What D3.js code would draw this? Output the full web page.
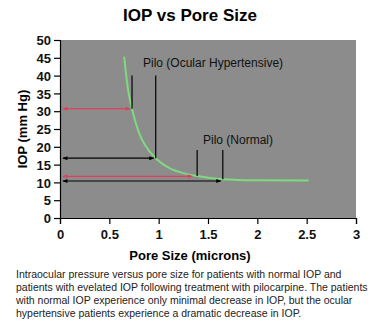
<!DOCTYPE html>
<html>
<head>
<meta charset="utf-8">
<script src="https://cdn.jsdelivr.net/npm/d3@7"></script>
<style>
  body { margin: 0; background: #fff; }
  svg { display: block; font-family: "Liberation Sans", Arial, sans-serif; }
</style>
</head>
<body>
<svg id="chart"></svg>
<script>
// curve: pore size (microns) vs IOP (mm Hg)
const poreSize = [0.65, 0.69, 0.73, 0.81, 0.86, 0.97, 1.04, 1.11, 1.25, 1.39, 1.65, 2.0, 2.52];
const iop      = [45.3, 36.0, 30.7, 23.3, 20.6, 16.8, 15.2, 14.0, 12.6, 11.8, 10.9, 10.6, 10.5];

// horizontal double arrows: level, end x, colour
const arrowIop   = [30.7, 16.8, 11.7, 10.4];
const arrowEnd   = [0.71, 0.95, 1.34, 1.63];
const arrowColor = ['#e0405c', '#000', '#e0405c', '#000'];

// vertical marker lines
const markX    = [0.73, 0.97, 1.39, 1.65];
const markTop  = [40, 40, 19.1, 19.1];
const markBase = [30.7, 16.8, 11.8, 10.9];

const xTicks = [0, 0.5, 1, 1.5, 2, 2.5, 3];
const yTicks = [0, 5, 10, 15, 20, 25, 30, 35, 40, 45, 50];

const caption = [
  'Intraocular pressure versus pore size for patients with normal IOP and',
  'patients with evelated IOP following treatment with pilocarpine. The patients',
  'with normal IOP experience only minimal decrease in IOP, but the ocular',
  'hypertensive patients experience a dramatic decrease in IOP.'
];

const width = 380, height = 333;
const m = { left: 60, top: 40, right: 24, bottom: 115 };

const svg = d3.select('#chart').attr('width', width).attr('height', height);

const x = d3.scaleLinear().domain([0, 3]).range([m.left, width - m.right]);
const y = d3.scaleLinear().domain([0, 50]).range([height - m.bottom, m.top]);

svg.append('text')
  .attr('x', 190).attr('y', 21)
  .attr('text-anchor', 'middle')
  .style('font-size', '17px').style('font-weight', 'bold')
  .text('IOP vs Pore Size');

svg.append('rect')
  .attr('x', x(0)).attr('y', y(50))
  .attr('width', x(3) - x(0)).attr('height', y(0) - y(50))
  .attr('fill', '#8c8c8c');

const defs = svg.append('defs');
['#e0405c', '#000'].forEach((c, i) => {
  defs.append('marker')
    .attr('id', 'ah' + i)
    .attr('viewBox', '0 0 10 10')
    .attr('refX', 9).attr('refY', 5)
    .attr('markerWidth', 6).attr('markerHeight', 5)
    .attr('orient', 'auto-start-reverse')
    .attr('markerUnits', 'userSpaceOnUse')
    .append('path')
    .attr('d', 'M0,1L10,5L0,9Z')
    .attr('fill', c);
});

// axes
const xAxis = svg.append('g')
  .attr('transform', `translate(0,${y(0)})`)
  .call(d3.axisBottom(x).tickValues(xTicks).tickFormat(d3.format('')).tickSize(6).tickPadding(6));
const yAxis = svg.append('g')
  .attr('transform', `translate(${x(0)},0)`)
  .call(d3.axisLeft(y).tickValues(yTicks).tickSize(6).tickPadding(3));
[xAxis, yAxis].forEach(a => {
  a.select('.domain').attr('stroke', '#000').attr('stroke-width', 1.2);
  a.selectAll('.tick line').attr('stroke', '#000').attr('stroke-width', 1.2);
  a.selectAll('text')
    .attr('fill', '#111')
    .style('font-size', '13px').style('font-weight', 'bold')
    .style('font-family', '"Liberation Sans", Arial, sans-serif');
});
yAxis.selectAll('text').attr('dy', '0.36em');

svg.append('text')
  .attr('x', 190).attr('y', 260)
  .attr('text-anchor', 'middle')
  .style('font-size', '13px').style('font-weight', 'bold')
  .text('Pore Size (microns)');

svg.append('text')
  .attr('transform', `translate(27,${(y(0) + y(50)) / 2}) rotate(-90)`)
  .attr('text-anchor', 'middle')
  .style('font-size', '13px').style('font-weight', 'bold')
  .text('IOP (mm Hg)');

// curve
const pts = poreSize.map((p, i) => [p, iop[i]]);
svg.append('path')
  .datum(pts)
  .attr('fill', 'none')
  .attr('stroke', '#7fd97f')
  .attr('stroke-width', 2)
  .attr('d', d3.line().x(d => x(d[0])).y(d => y(d[1])).curve(d3.curveMonotoneX));

// vertical markers
svg.selectAll('.mark')
  .data(markX)
  .enter().append('line')
  .attr('x1', d => x(d)).attr('x2', d => x(d))
  .attr('y1', (d, i) => y(markTop[i]))
  .attr('y2', (d, i) => y(markBase[i]))
  .attr('stroke', '#000').attr('stroke-width', 1.2);

// arrows
svg.selectAll('.arrow')
  .data(arrowIop)
  .enter().append('line')
  .attr('x1', x(0.03)).attr('x2', (d, i) => x(arrowEnd[i]))
  .attr('y1', d => y(d)).attr('y2', d => y(d))
  .attr('stroke', (d, i) => arrowColor[i])
  .attr('stroke-width', 1.2)
  .attr('marker-start', (d, i) => `url(#ah${arrowColor[i] === '#000' ? 1 : 0})`)
  .attr('marker-end', (d, i) => `url(#ah${arrowColor[i] === '#000' ? 1 : 0})`);

svg.append('text')
  .attr('x', 143).attr('y', 67)
  .style('font-size', '12px').attr('fill', '#111')
  .text('Pilo (Ocular Hypertensive)');
svg.append('text')
  .attr('x', 203).attr('y', 144)
  .style('font-size', '12px').attr('fill', '#111')
  .text('Pilo (Normal)');

// caption
const cap = svg.append('text')
  .attr('x', 16).attr('y', 278)
  .style('font-size', '10.5px').attr('fill', '#222');
caption.forEach((t, i) => {
  cap.append('tspan').attr('x', 16).attr('dy', i === 0 ? 0 : 13).text(t);
});
</script>
</body>
</html>
